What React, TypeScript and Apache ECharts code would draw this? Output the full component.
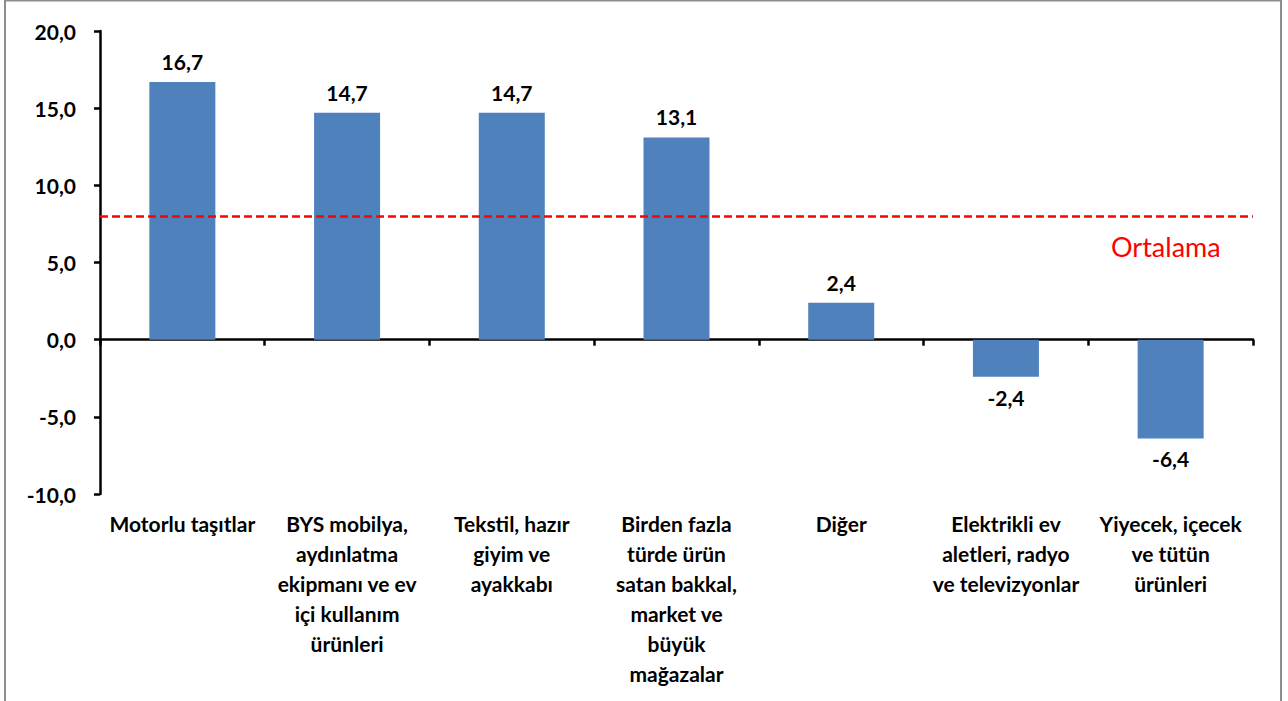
import React, { useEffect, useRef } from "react";
import * as echarts from "echarts";

const categories = [
  "Motorlu taşıtlar",
  "BYS mobilya,\naydınlatma\nekipmanı ve ev\niçi kullanım\nürünleri",
  "Tekstil, hazır\ngiyim ve\nayakkabı",
  "Birden fazla\ntürde ürün\nsatan bakkal,\nmarket ve\nbüyük\nmağazalar",
  "Diğer",
  "Elektrikli ev\naletleri, radyo\nve televizyonlar",
  "Yiyecek, içecek\nve tütün\nürünleri",
];
const values = [16.7, 14.7, 14.7, 13.1, 2.4, -2.4, -6.4];
const averageValue = 8.0;
const averageLabel = "Ortalama";
const yMin = -10;
const yMax = 20;
const yInterval = 5;

const fmt = (v: number) => v.toFixed(1).replace(".", ",");

export default function App() {
  const ref = useRef<HTMLDivElement>(null);
  useEffect(() => {
    document.body.style.margin = "0";
    const chart = echarts.init(ref.current!, null, { renderer: "svg" });
    const font = "Lato, 'Noto Sans', sans-serif";
    chart.setOption({
      animation: false,
      backgroundColor: "#ffffff",
      textStyle: { fontFamily: font },
      grid: {
        left: 100,
        right: 35,
        top: 31,
        bottom: 207,
        containLabel: false,
        outerBoundsMode: "none",
      },
      graphic: [
        {
          type: "rect",
          shape: { x: 5, y: 0.5, width: 1276, height: 720 },
          style: { fill: "none", stroke: "#8c8c8c", lineWidth: 2 },
          silent: true,
        },
        {
          type: "text",
          left: 1111,
          top: 233,
          style: {
            text: averageLabel,
            fill: "#ff0000",
            font: `400 27px ${font}`,
          },
        },
      ],
      xAxis: {
        type: "category",
        data: categories,
        axisLine: { onZero: true, lineStyle: { color: "#000", width: 2.5 } },
        axisTick: { show: true, length: 6, lineStyle: { color: "#000", width: 2.5 } },
        axisLabel: {
          interval: 0,
          margin: 14,
          color: "#000",
          fontWeight: "bold",
          fontSize: 21,
          lineHeight: 30,
          fontFamily: font,
          align: "center",
          verticalAlign: "top",
        },
        splitLine: { show: false },
      },
      yAxis: {
        type: "value",
        min: yMin,
        max: yMax,
        interval: yInterval,
        axisLine: { show: true, lineStyle: { color: "#000", width: 2.5 } },
        axisTick: { show: true, length: 6, lineStyle: { color: "#000", width: 2.5 } },
        axisLabel: {
          formatter: (v: number) => fmt(v),
          color: "#000",
          fontWeight: "bold",
          fontSize: 21,
          margin: 24,
          fontFamily: font,
        },
        splitLine: { show: false },
      },
      series: [
        {
          type: "bar",
          barWidth: 66,
          itemStyle: { color: "#4f81bd" },
          data: values.map((v) => ({
            value: v,
            label: { position: v < 0 ? "bottom" : "top" },
          })),
          label: {
            show: true,
            formatter: (p: any) => fmt(p.value),
            color: "#000",
            fontWeight: "bold",
            fontSize: 21,
            distance: 10,
            fontFamily: font,
          },
          markLine: {
            silent: true,
            symbol: "none",
            label: { show: false },
            lineStyle: { color: "#ff0000", width: 2.5, type: [8, 4] },
            data: [{ yAxis: averageValue }],
          },
        },
      ],
    });
    return () => chart.dispose();
  }, []);
  return (
    <div
      ref={ref}
      style={{ position: "absolute", left: 0, top: 0, width: 1288, height: 701 }}
    />
  );
}
